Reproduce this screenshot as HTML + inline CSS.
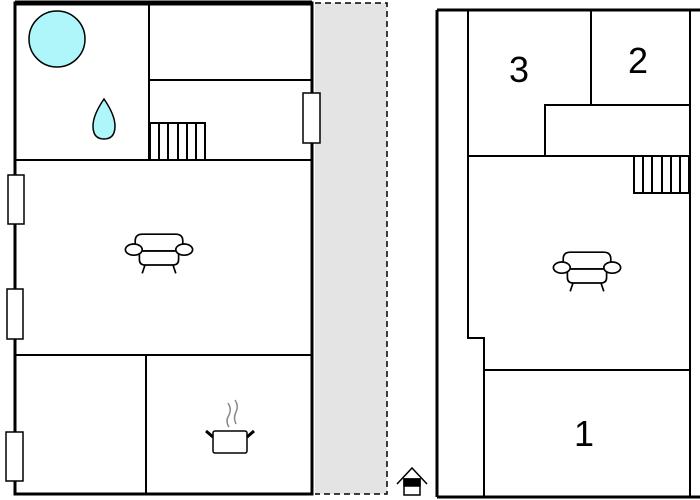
<!DOCTYPE html>
<html><head><style>body{margin:0;background:#fff}svg{display:block}</style></head><body>
<svg width="700" height="500" viewBox="0 0 700 500" xmlns="http://www.w3.org/2000/svg" font-family="Liberation Sans, sans-serif">
<defs>
<g id="sofa" fill="#fff" stroke="#000" stroke-width="1.2">
<path d="M-17,0 v-7 q0,-5 5,-5 h24 q5,0 5,5 v7 z"/>
<path d="M-14,0 h28 v6 q0,4 -4,4 h-20 q-4,0 -4,-4 z"/>
<ellipse cx="-18" cy="-1" rx="6" ry="4"/>
<ellipse cx="18" cy="-1" rx="6" ry="4"/>
<path d="M-10,10 l-2,6 M10,10 l2,6" fill="none"/>
</g>
</defs>
<rect x="315" y="3" width="72" height="491" fill="#e4e4e4"/>
<path d="M315,3 H387 V494 H315" fill="none" stroke="#000" stroke-width="1.5" stroke-dasharray="6,4"/>
<g fill="none" stroke="#000">
<rect x="15" y="3" width="297" height="491" stroke-width="3"/>
<line x1="15" y1="3" x2="312" y2="3" stroke-width="5"/>
<g stroke-width="2">
<line x1="149" y1="3" x2="149" y2="160"/>
<line x1="149" y1="80" x2="312" y2="80"/>
<line x1="15" y1="160" x2="312" y2="160"/>
<line x1="15" y1="355" x2="312" y2="355"/>
<line x1="146" y1="355" x2="146" y2="494"/>
<path d="M150,160 V123 H205 V160 M159,123V160 M168,123V160 M178,123V160 M187,123V160 M196,123V160"/>
</g>
</g>
<g fill="#fff" stroke="#000" stroke-width="1.5">
<rect x="303" y="93" width="17" height="50"/>
<rect x="8" y="175" width="16" height="49"/>
<rect x="7" y="289" width="16" height="50"/>
<rect x="6" y="432" width="17" height="49"/>
</g>
<circle cx="57" cy="39" r="28" fill="#aef6fa" stroke="#000" stroke-width="1.5"/>
<path d="M104,99 Q93,115 93,126 Q93,139 104,139 Q115,139 115,126 Q115,115 104,99 Z" fill="#aef6fa" stroke="#000" stroke-width="1.5"/>
<use href="#sofa" transform="translate(159,251) scale(1.4)"/>
<g stroke="#000" fill="#fff" stroke-width="1.5">
<rect x="213" y="431" width="34" height="22" rx="2"/>
<path d="M213,437 l-7,-6 M247,437 l7,-6" stroke-width="3"/>
<path d="M229,427 q-4,-6 0,-12 q3,-6 -1,-12 M236,424 q-3,-6 0,-12 q3,-6 -1,-12" fill="none" stroke="#888"/>
</g>
<g stroke="#000" stroke-width="1.5">
<path d="M397,484 L412,468 L427,484" fill="none"/>
<rect x="404" y="479" width="16" height="16" fill="#fff"/>
<rect x="404" y="479" width="16" height="7" fill="#000"/>
</g>
<g fill="none" stroke="#000">
<line x1="437" y1="10" x2="437" y2="497" stroke-width="3"/>
<line x1="437" y1="10" x2="700" y2="10" stroke-width="3"/>
<line x1="437" y1="497" x2="700" y2="497" stroke-width="3"/>
<g stroke-width="2">
<line x1="690" y1="10" x2="690" y2="497"/>
<path d="M468,10 V338 H484 V497"/>
<line x1="468" y1="156" x2="690" y2="156"/>
<line x1="591" y1="10" x2="591" y2="105"/>
<path d="M545,156 V105 H690"/>
<line x1="484" y1="370" x2="690" y2="370"/>
<path d="M689,156 V193 H634 V156 M643,156V193 M652,156V193 M662,156V193 M671,156V193 M680,156V193"/>
</g>
</g>
<use href="#sofa" transform="translate(587,269) scale(1.4)"/>
<g font-size="36" text-anchor="middle" fill="#000">
<text x="519" y="82">3</text>
<text x="638" y="73">2</text>
<text x="584" y="446">1</text>
</g>
</svg>
</body></html>
